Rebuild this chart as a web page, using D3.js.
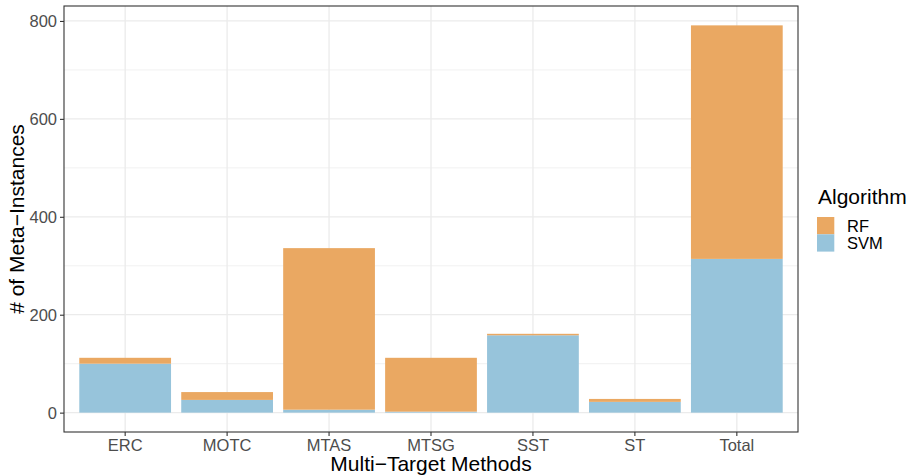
<!DOCTYPE html>
<html>
<head>
<meta charset="utf-8">
<script src="https://cdn.jsdelivr.net/npm/d3@7"></script>
<style>
  body { margin: 0; background: #fff; }
  svg { display: block; font-family: "Liberation Sans", Arial, Helvetica, sans-serif; }
</style>
</head>
<body>
<svg id="chart" width="910" height="475"></svg>
<script>
const categories = ["ERC", "MOTC", "MTAS", "MTSG", "SST", "ST", "Total"];
const svmValues = [100, 26, 6, 2, 158, 22, 314];
const rfValues  = [12, 16, 330, 110, 3, 6, 477];
const yTicks = [0, 200, 400, 600, 800];
const yMinorTicks = [100, 300, 500, 700];
const seriesNames = ["RF", "SVM"];
const colors = { RF: "#EAA862", SVM: "#97C4DB" };

const svg = d3.select("#chart");
const panel = { left: 64, right: 798, top: 6, bottom: 432 };

const totals = categories.map((c, i) => svmValues[i] + rfValues[i]);
const maxV = d3.max(totals);

const x = d3.scaleBand().domain(categories)
  .range([panel.left, panel.right]).paddingInner(0.1).paddingOuter(0.15);
const y = d3.scaleLinear().domain([-0.05 * maxV, maxV * 1.05])
  .range([panel.bottom, panel.top]);

// panel background
svg.append("rect").attr("x", panel.left).attr("y", panel.top)
  .attr("width", panel.right - panel.left).attr("height", panel.bottom - panel.top)
  .attr("fill", "#fff");

const grid = svg.append("g");
grid.selectAll(".minor").data(yMinorTicks).join("line")
  .attr("x1", panel.left).attr("x2", panel.right)
  .attr("y1", d => y(d)).attr("y2", d => y(d))
  .attr("stroke", "#EBEBEB").attr("stroke-width", 0.7);
grid.selectAll(".major").data(yTicks).join("line")
  .attr("x1", panel.left).attr("x2", panel.right)
  .attr("y1", d => y(d)).attr("y2", d => y(d))
  .attr("stroke", "#EBEBEB").attr("stroke-width", 1.3);
grid.selectAll(".vmajor").data(categories).join("line")
  .attr("x1", d => x(d) + x.bandwidth() / 2).attr("x2", d => x(d) + x.bandwidth() / 2)
  .attr("y1", panel.top).attr("y2", panel.bottom)
  .attr("stroke", "#EBEBEB").attr("stroke-width", 1.3);

// stacked bars
const table = categories.map((c, i) => ({ cat: c, SVM: svmValues[i], RF: rfValues[i] }));
const stack = d3.stack().keys(["SVM", "RF"])(table);
svg.append("g").selectAll("g").data(stack).join("g")
  .attr("fill", d => colors[d.key])
  .selectAll("rect").data(d => d).join("rect")
  .attr("x", d => x(d.data.cat))
  .attr("width", x.bandwidth())
  .attr("y", d => y(d[1]))
  .attr("height", d => y(d[0]) - y(d[1]));

// panel border
svg.append("rect").attr("x", panel.left).attr("y", panel.top)
  .attr("width", panel.right - panel.left).attr("height", panel.bottom - panel.top)
  .attr("fill", "none").attr("stroke", "#333333").attr("stroke-width", 1.1);

// axes
const yAxis = svg.append("g").attr("transform", `translate(${panel.left},0)`)
  .call(d3.axisLeft(y).tickValues(yTicks).tickSize(4).tickPadding(3));
const xAxis = svg.append("g").attr("transform", `translate(0,${panel.bottom})`)
  .call(d3.axisBottom(x).tickSize(4).tickPadding(3));
[yAxis, xAxis].forEach(a => {
  a.select(".domain").remove();
  a.selectAll(".tick line").attr("stroke", "#333333").attr("stroke-width", 1.1);
  a.selectAll(".tick text").attr("fill", "#4D4D4D")
    .style("font-size", "16.5px").style("font-family", "Liberation Sans, Arial, sans-serif");
});
yAxis.selectAll(".tick text").attr("dy", "0.36em");

// axis titles
svg.append("text").attr("x", (panel.left + panel.right) / 2).attr("y", 471)
  .attr("text-anchor", "middle").attr("fill", "#000").style("font-size", "21px")
  .text("Multi\u2212Target Methods");
svg.append("text")
  .attr("transform", `translate(24,${(panel.top + panel.bottom) / 2}) rotate(-90)`)
  .attr("text-anchor", "middle").attr("fill", "#000").style("font-size", "21px")
  .text("# of Meta\u2212Instances");

// legend
const lg = svg.append("g").attr("transform", "translate(817,0)");
lg.append("text").attr("x", 1).attr("y", 204).attr("fill", "#000")
  .style("font-size", "21px").text("Algorithm");
seriesNames.forEach((s, i) => {
  lg.append("rect").attr("x", 0).attr("y", 217 + i * 17.3)
    .attr("width", 17.3).attr("height", 17.3).attr("fill", colors[s]);
  lg.append("text").attr("x", 30).attr("y", 217 + i * 17.3 + 8.65).attr("dy", "0.36em")
    .attr("fill", "#000").style("font-size", "16.5px").text(s);
});
</script>
</body>
</html>
